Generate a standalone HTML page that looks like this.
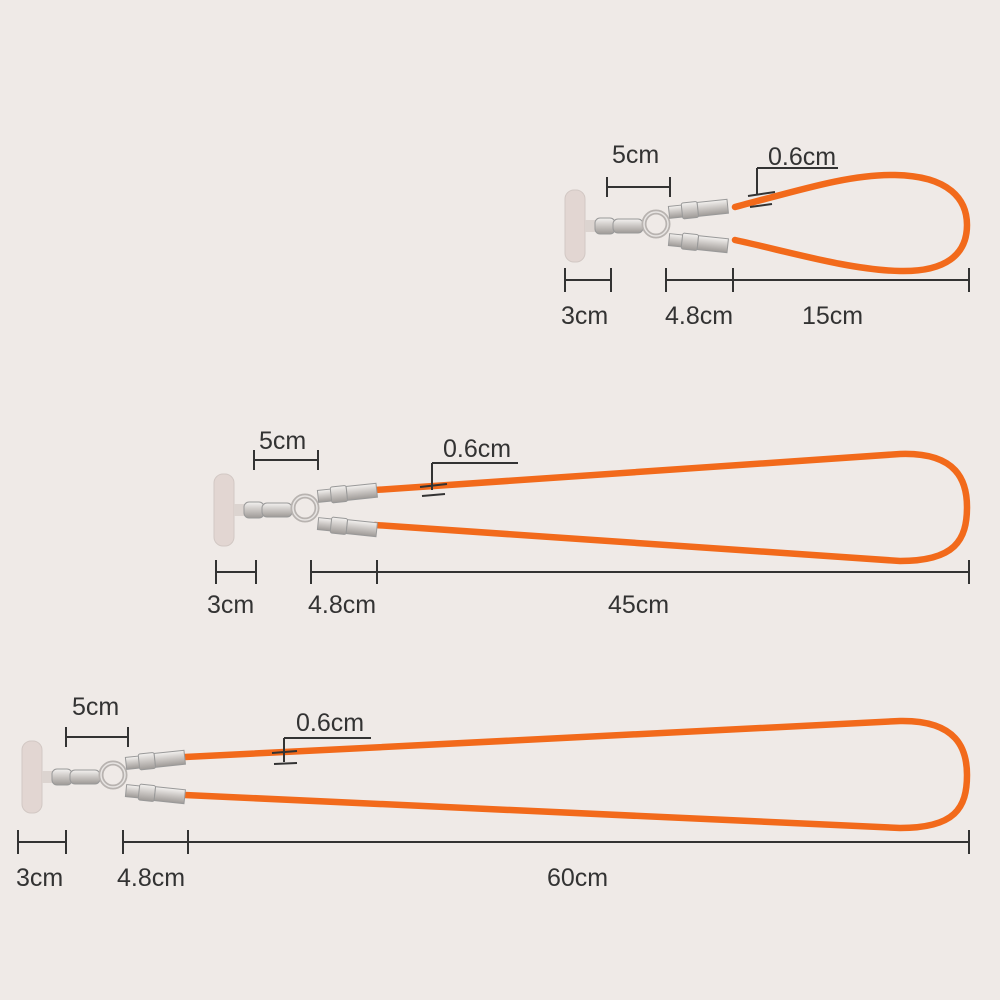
<!DOCTYPE html>
<html><head><meta charset="utf-8"><style>
html,body{margin:0;padding:0;background:#efeae7;}
svg{display:block}
text{font-family:"Liberation Sans",sans-serif;font-size:25px;fill:#333;}
</style></head><body>
<svg width="1000" height="1000" viewBox="0 0 1000 1000">
<defs>
<linearGradient id="met" x1="0" y1="0" x2="0" y2="1">
<stop offset="0" stop-color="#f4f2f0"/><stop offset="0.5" stop-color="#c9c5c2"/><stop offset="1" stop-color="#9e9a97"/>
</linearGradient>
<g id="hw">
<rect x="0" y="-36" width="20" height="72" rx="9" fill="#e2d6d2" stroke="#d2c8c4"/>
<rect x="20" y="-6" width="12" height="12" fill="#dcd4d0"/>
<rect x="30" y="-8" width="20" height="16" rx="5" fill="url(#met)" stroke="#999" stroke-width="1"/>
<rect x="48" y="-7" width="30" height="14" rx="5" fill="url(#met)" stroke="#999" stroke-width="1"/>
<circle cx="91" cy="-2" r="12" fill="none" stroke="#b8b3b0" stroke-width="5"/>
<circle cx="91" cy="-2" r="12" fill="none" stroke="#e8e5e3" stroke-width="1.5"/>
<g transform="rotate(-6 108 -14)">
<rect x="104" y="-20" width="14" height="12" fill="url(#met)" stroke="#999"/>
<rect x="117" y="-22" width="16" height="16" rx="2" fill="url(#met)" stroke="#999"/>
<rect x="133" y="-21" width="30" height="14" fill="url(#met)" stroke="#999"/>
</g>
<g transform="rotate(6 108 14)">
<rect x="104" y="8" width="14" height="12" fill="url(#met)" stroke="#999"/>
<rect x="117" y="6" width="16" height="16" rx="2" fill="url(#met)" stroke="#999"/>
<rect x="133" y="7" width="30" height="14" fill="url(#met)" stroke="#999"/>
</g>
</g>
</defs>
<g fill="none" stroke="#f26a1b" stroke-width="6.5" stroke-linecap="round">
<path d="M735,207 C800,190 850,174 895,175 C950,176 967,200 967,225 C967,255 945,272 900,271 C850,270 790,252 735,240"/>
<path d="M375,490 L900,454 C958,452 967,482 967,507 C967,540 955,561 900,561 L375,525"/>
<path d="M185,757 L900,721 C958,720 967,750 967,775 C967,808 955,828 900,828 L185,795"/>
</g>
<use href="#hw" transform="translate(565,226)"/>
<use href="#hw" transform="translate(214,510)"/>
<use href="#hw" transform="translate(22,777)"/>
<g stroke="#333" stroke-width="2" fill="none">
<path d="M607,187H670M607,177V197M670,177V197"/>
<path d="M757,168H838M757,168V195M748,196L775,192M750,207L772,204"/>
<path d="M565,280H611M565,268V292M611,268V292"/>
<path d="M666,280H969M666,268V292M733,268V292M969,268V292"/>
<path d="M254,460H318M254,450V470M318,450V470"/>
<path d="M432,463H518M432,463V490M420,487L447,484M422,496L445,494"/>
<path d="M216,572H256M216,560V584M256,560V584"/>
<path d="M311,572H969M311,560V584M377,560V584M969,560V584"/>
<path d="M66,737H128M66,727V747M128,727V747"/>
<path d="M284,738H371M284,738V762M272,753L297,751M274,764L297,763"/>
<path d="M18,842H66M18,830V854M66,830V854"/>
<path d="M123,842H969M123,830V854M188,830V854M969,830V854"/>
</g>
<text x="612" y="163">5cm</text>
<text x="768" y="165">0.6cm</text>
<text x="561" y="324">3cm</text>
<text x="665" y="324">4.8cm</text>
<text x="802" y="324">15cm</text>
<text x="259" y="449">5cm</text>
<text x="443" y="457">0.6cm</text>
<text x="207" y="613">3cm</text>
<text x="308" y="613">4.8cm</text>
<text x="608" y="613">45cm</text>
<text x="72" y="715">5cm</text>
<text x="296" y="731">0.6cm</text>
<text x="16" y="886">3cm</text>
<text x="117" y="886">4.8cm</text>
<text x="547" y="886">60cm</text>
</svg>
</body></html>
